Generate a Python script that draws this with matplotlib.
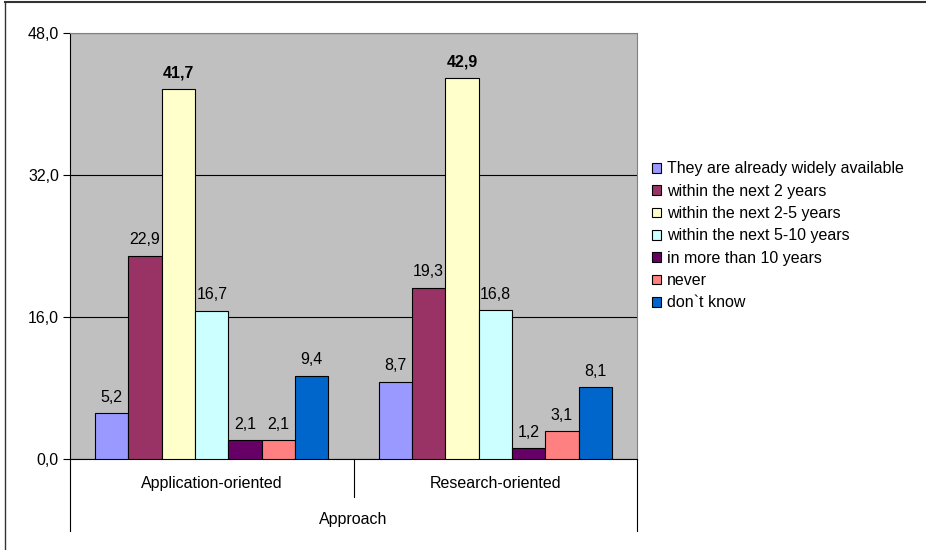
import numpy as np
import matplotlib.pyplot as plt
from matplotlib.lines import Line2D

plt.rcParams['font.family'] = ['Liberation Sans', 'DejaVu Sans']

categories = ["Application-oriented", "Research-oriented"]
axis_title = "Approach"
series_names = [
    "They are already widely available",
    "within the next 2 years",
    "within the next 2-5 years",
    "within the next 5-10 years",
    "in more than 10 years",
    "never",
    "don`t know",
]
values = [
    [5.2, 8.7],
    [22.9, 19.3],
    [41.7, 42.9],
    [16.7, 16.8],
    [2.1, 1.2],
    [2.1, 3.1],
    [9.4, 8.1],
]
colors = ["#9999FF", "#993366", "#FFFFCC", "#CCFFFF", "#660066", "#FF8080", "#0066CC"]
yticks = [0, 16, 32, 48]
bold_series = "within the next 2-5 years"

FS = 11.5
W, H = 926, 550
fig = plt.figure(figsize=(W / 100, H / 100), dpi=100)
ax = fig.add_axes([70 / W, 1 - 459 / H, (637 - 70) / W, (459 - 33) / H])
ax.set_facecolor("#C0C0C0")

n = len(series_names)
width = 1 / (n + 1.5)
x = np.arange(len(categories))
for i, (name, vals, col) in enumerate(zip(series_names, values, colors)):
    pos = x - width * n / 2 + width * (i + 0.5)
    ax.bar(pos, vals, width=width, color=col, edgecolor="black", linewidth=0.8,
           label=name, zorder=3)
    for px, v in zip(pos, vals):
        ax.annotate(f"{v:.1f}".replace(".", ","), (px, v), xytext=(0, 6),
                    textcoords="offset points", ha="center", va="bottom",
                    fontsize=FS, fontweight="bold" if name == bold_series else "normal")

ax.set_xlim(-0.5, len(categories) - 0.5)
ax.set_ylim(0, 48)
ax.set_yticks(yticks)
ax.set_yticklabels([f"{t:.1f}".replace(".", ",") for t in yticks], fontsize=FS)
ax.yaxis.grid(True, color="black", linewidth=0.8, zorder=0)
ax.tick_params(axis="y", length=5, width=0.8, pad=3)
ax.set_xticks([])
for side in ["top", "right"]:
    ax.spines[side].set_color("#808080")
ax.spines["left"].set_linewidth(0.8)
ax.spines["bottom"].set_linewidth(0.8)

# category axis with separators
for xs, y2 in [(-0.5, -0.17), (0.5, -0.09), (1.5, -0.17)]:
    ax.add_line(Line2D([xs, xs], [0, y2], transform=ax.get_xaxis_transform(),
                       color="black", linewidth=0.8, clip_on=False))
for xi, c in zip(x, categories):
    ax.text(xi, -0.057, c, transform=ax.get_xaxis_transform(), ha="center",
            va="center", fontsize=FS)
ax.text(0.5, -0.143, axis_title, transform=ax.transAxes, ha="center",
        va="center", fontsize=FS)

# legend
handles = [plt.Rectangle((0, 0), 1, 1, facecolor=c, edgecolor="black", linewidth=0.8)
           for c in colors]
fig.legend(handles, series_names, loc="upper left",
           bbox_to_anchor=(646 / W, 1 - 155 / H), frameon=False, fontsize=FS,
           handlelength=0.55, handleheight=0.55, handletextpad=0.35,
           labelspacing=0.46, borderaxespad=0)

# outer border (top and left)
fig.add_artist(Line2D([5 / W, 1], [1 - 2 / H, 1 - 2 / H], transform=fig.transFigure,
                      color="#333333", linewidth=1.5))
fig.add_artist(Line2D([5 / W, 5 / W], [0, 1 - 2 / H], transform=fig.transFigure,
                      color="#333333", linewidth=1.0))

fig.savefig("out.png", dpi=100)
